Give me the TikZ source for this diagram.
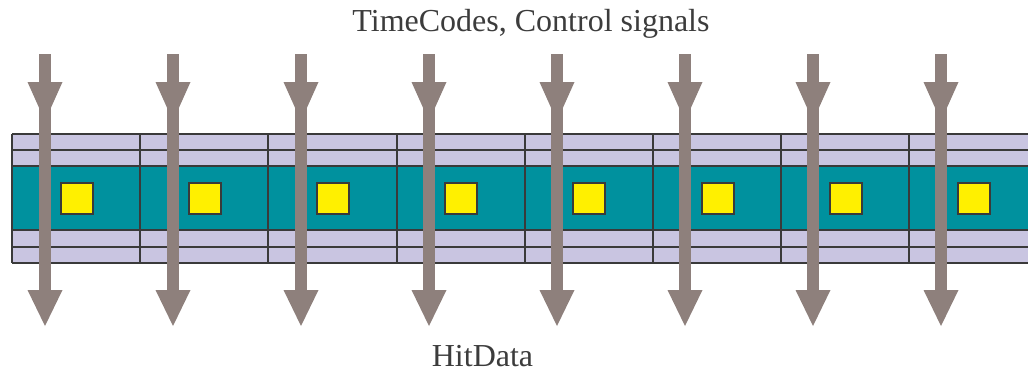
\documentclass[tikz,border=0pt]{standalone}
\usepackage{fontspec}
\setmainfont{Liberation Serif}
\usetikzlibrary{calc}
\definecolor{lav}{HTML}{C9C5E1}
\definecolor{tealband}{HTML}{00919E}
\definecolor{yel}{HTML}{FFF000}
\definecolor{gridline}{HTML}{3A3A3A}
\definecolor{arrowc}{HTML}{8E807C}
\definecolor{txt}{HTML}{3C3C3C}
\tikzset{
  gridln/.style={draw=gridline, line width=2pt},
  sqbox/.style={draw=gridline, fill=yel, line width=2pt, minimum width=32pt, minimum height=31pt, inner sep=0pt},
  arrowfill/.style={fill=arrowc},
  label/.style={text=txt, font=\fontsize{32}{38}\selectfont, anchor=base, inner sep=0pt}
}
\begin{document}
\begin{tikzpicture}[x=1pt,y=-1pt]
\useasboundingbox (0,0) rectangle (1028,372);
% band
\fill[lav] (12,134) rectangle (1028,263);
\fill[tealband] (12,166) rectangle (1028,230);
\foreach \y in {134,150,166,230,247,263} \draw[gridln] (12,\y) -- (1028,\y);
\foreach \i in {0,...,7} {
  \draw[gridln] ({12+128.2*\i},134) -- ({12+128.2*\i},263);
  \node[sqbox] (sq\i) at ({12+128.2*\i+64.5},198) {};
}
% arrows
\foreach \i in {0,...,7} {
  \coordinate (c\i) at ({45+128*\i},0);
  \fill[arrowfill] ($(c\i)+(-6,54)$) rectangle ($(c\i)+(6,291)$);
  \fill[arrowfill] ($(c\i)+(-17.5,82)$) -- ($(c\i)+(17.5,82)$) -- ($(c\i)+(0,121)$) -- cycle;
  \fill[arrowfill] ($(c\i)+(-17.5,290)$) -- ($(c\i)+(17.5,290)$) -- ($(c\i)+(0,326)$) -- cycle;
}
\node[label] (top) at (531,31) {TimeCodes, Control signals};
\node[label] (bottom) at (482.5,366) {HitData};
\end{tikzpicture}
\end{document}
